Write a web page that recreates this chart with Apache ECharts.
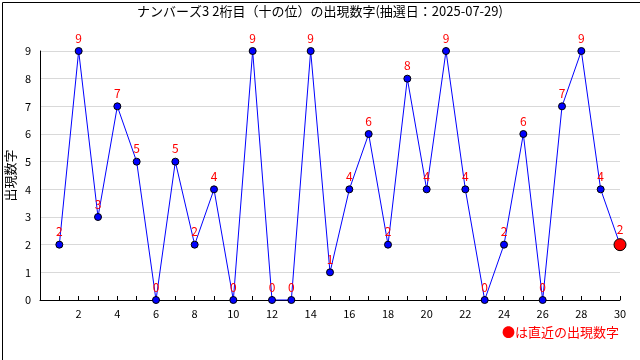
<!DOCTYPE html>
<html><head><meta charset="utf-8">
<script src="https://cdn.jsdelivr.net/npm/echarts@6/dist/echarts.min.js"></script>
<style>html,body{margin:0;padding:0;background:#fff}#c{width:640px;height:360px}</style>
</head><body><div id="c"></div>
<script>
const draws = [1,2,3,4,5,6,7,8,9,10,11,12,13,14,15,16,17,18,19,20,21,22,23,24,25,26,27,28,29,30];
const digits = [2,9,3,7,5,0,5,2,4,0,9,0,0,9,1,4,6,2,8,4,9,4,0,2,6,0,7,9,4,2];
const titleText = 'ナンバーズ3 2桁目（十の位）の出現数字(抽選日：2025-07-29)';
const yName = '出現数字';
const noteText = '●は直近の出現数字';
const fontFam = '"Noto Sans CJK JP", "DejaVu Sans", sans-serif';

const chart = echarts.init(document.getElementById('c'));
const last = draws.length - 1;
const data = draws.map((x, i) => {
  const d = { value: [x, digits[i]] };
  if (i === last) { d.symbolSize = 12; d.itemStyle = { color: '#ff0000', borderColor: '#000', borderWidth: 1 }; }
  return d;
});
chart.setOption({
  animation: false,
  title: { text: titleText, left: 'center', top: 0, textStyle: { fontSize: 13, fontWeight: 'normal', color: '#000', fontFamily: fontFam } },
  grid: { left: 40, right: 20, top: 51, bottom: 60, containLabel: false, outerBoundsMode: 'none' },
  xAxis: {
    type: 'value', min: 0, max: 30, interval: 1,
    axisLine: { lineStyle: { color: '#000' } },
    axisTick: { inside: true, length: 4, lineStyle: { color: '#000' } },
    splitLine: { show: false },
    axisLabel: { color: '#000', fontSize: 11, fontFamily: fontFam, margin: 8,
      formatter: v => (v > 0 && v % 2 === 0) ? String(v) : '' }
  },
  yAxis: {
    type: 'value', min: 0, max: 9, interval: 1,
    name: yName, nameLocation: 'middle', nameGap: 23, nameRotate: 90, nameMoveOverlap: false,
    nameTextStyle: { color: '#000', fontSize: 13, fontFamily: fontFam },
    axisLine: { show: true, lineStyle: { color: '#000' } },
    axisTick: { show: false },
    splitLine: { lineStyle: { color: '#d9d9d9' } },
    axisLabel: { color: '#000', fontSize: 11, fontFamily: fontFam, margin: 9 }
  },
  series: [{
    type: 'line', data: data,
    lineStyle: { color: '#0000ff', width: 1 },
    symbol: 'circle', symbolSize: 7,
    itemStyle: { color: '#0000ff', borderColor: '#000', borderWidth: 1 },
    label: { show: true, position: 'top', distance: 3, color: '#ff0000', fontSize: 12, fontFamily: fontFam,
      formatter: p => String(p.value[1]) }
  }],
  graphic: [
    { type: 'rect', left: 0, top: 0, silent: true,
      shape: { x: 0.5, y: 0.5, width: 639, height: 359 },
      style: { fill: 'none', stroke: '#000', lineWidth: 1 } },
    { type: 'text', right: 21, top: 326,
      style: { text: noteText, fill: '#ff0000', fontSize: 13, fontFamily: fontFam } }
  ]
});
</script></body></html>
